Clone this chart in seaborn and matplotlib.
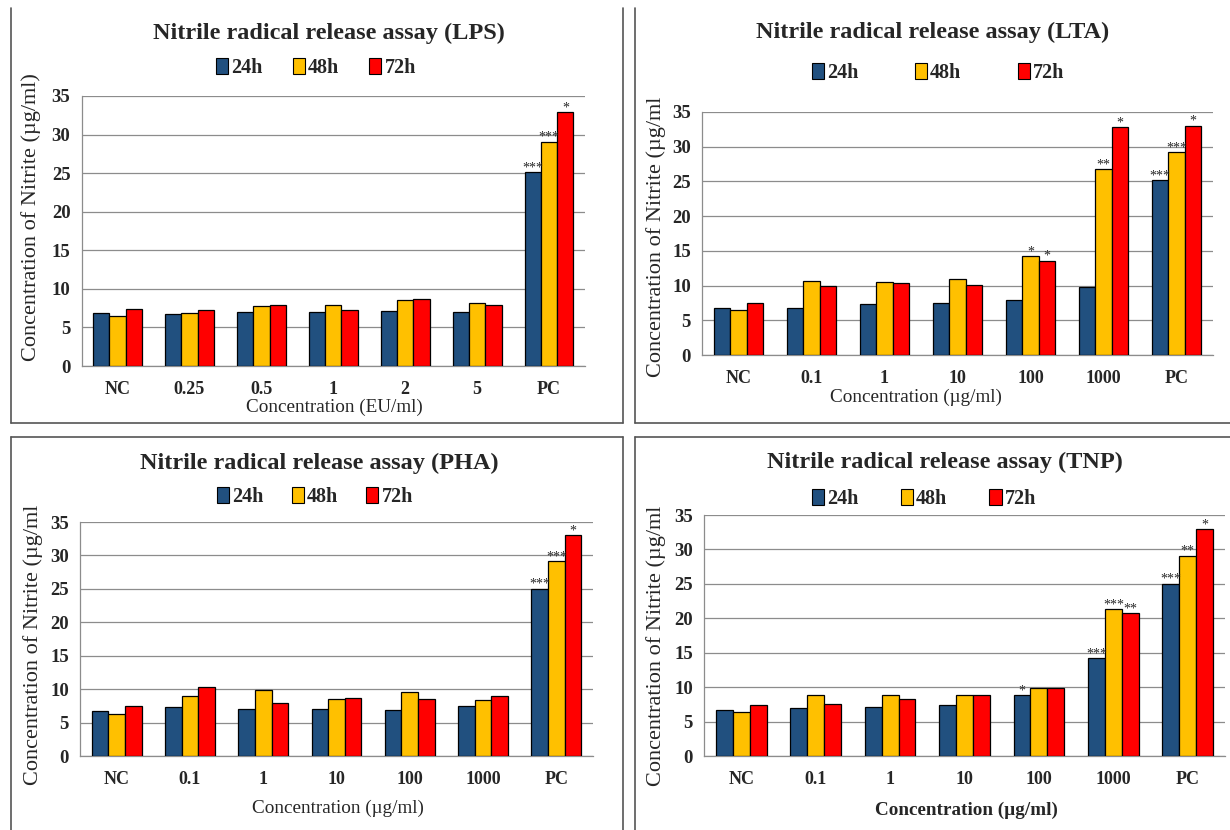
import numpy as np
import pandas as pd
import matplotlib
matplotlib.use("Agg")
import matplotlib.pyplot as plt
from matplotlib.patches import Patch
from matplotlib.lines import Line2D
from matplotlib.ticker import FixedLocator
import seaborn as sns

# ---- data -------------------------------------------------------------
times = ["24h", "48h", "72h"]

cats_lps = ["NC", "0.25", "0.5", "1", "2", "5", "PC"]
lps_24 = [6.9, 6.8, 7.0, 7.0, 7.1, 7.0, 25.1]
lps_48 = [6.45, 6.9, 7.8, 7.95, 8.55, 8.15, 29.1]
lps_72 = [7.45, 7.25, 7.95, 7.25, 8.7, 7.95, 32.9]

cats_ug = ["NC", "0.1", "1", "10", "100", "1000", "PC"]
lta_24 = [6.8, 6.8, 7.4, 7.5, 7.9, 9.75, 25.15]
lta_48 = [6.45, 10.65, 10.5, 11.0, 14.25, 26.75, 29.2]
lta_72 = [7.45, 10.0, 10.3, 10.1, 13.6, 32.8, 33.0]

pha_24 = [6.75, 7.4, 7.0, 7.1, 6.95, 7.45, 25.0]
pha_48 = [6.35, 8.95, 9.8, 8.5, 9.6, 8.35, 29.1]
pha_72 = [7.45, 10.25, 7.9, 8.75, 8.5, 8.95, 33.0]

tnp_24 = [6.7, 7.0, 7.1, 7.45, 8.85, 14.2, 25.0]
tnp_48 = [6.4, 8.8, 8.9, 8.9, 9.9, 21.35, 29.1]
tnp_72 = [7.4, 7.55, 8.25, 8.9, 9.9, 20.7, 32.9]

# significance marks: (category index, time index, text)
stars_lps = [(6, 0, "***"), (6, 1, "***"), (6, 2, "*")]
stars_lta = [(4, 1, "*"), (4, 2, "*"), (5, 1, "**"), (5, 2, "*"),
             (6, 0, "***"), (6, 1, "***"), (6, 2, "*")]
stars_pha = [(6, 0, "***"), (6, 1, "***"), (6, 2, "*")]
stars_tnp = [(4, 0, "*"), (5, 0, "***"), (5, 1, "***"), (5, 2, "**"),
             (6, 0, "***"), (6, 1, "**"), (6, 2, "*")]

titles = ["Nitrile radical release assay (LPS)",
          "Nitrile radical release assay (LTA)",
          "Nitrile radical release assay (PHA)",
          "Nitrile radical release assay (TNP)"]
ylabels = ["Concentration of Nitrite (\u00b5g/ml)",
           "Concentration of Nitrite (\u00b5g/ml",
           "Concentration of Nitrite (\u00b5g/ml",
           "Concentration of Nitrite (\u00b5g/ml"]
xlabels = ["Concentration (EU/ml)",
           "Concentration (\u00b5g/ml)",
           "Concentration (\u00b5g/ml)",
           "Concentration (\u00b5g/ml)"]

colors = ["#21507f", "#ffc000", "#ff0000"]

# ---- style ------------------------------------------------------------
sns.set_style("white")
SERIF = ["Liberation Serif", "DejaVu Serif"]
plt.rcParams["font.family"] = SERIF

W, H = 1230, 830
fig = plt.figure(figsize=(W / 100, H / 100), dpi=100)


def fx(x):
    return x / W


def fy(y):
    return 1 - y / H


def make_frame(ax_px):
    x0, y0, x1, y1 = ax_px
    return [fx(x0), fy(y1), fx(x1) - fx(x0), fy(y0) - fy(y1)]


panels = [
    dict(cats=cats_lps, vals=(lps_24, lps_48, lps_72), stars=stars_lps,
         box=(81.6, 96, 585, 366), title=(329, 33), leg=(316, 68, 1.5),
         ylab=(31, 217), xlab=(334, 407, "normal")),
    dict(cats=cats_ug, vals=(lta_24, lta_48, lta_72), stars=stars_lta,
         box=(702, 112, 1213, 355), title=(933, 32), leg=(938, 73, 2.8),
         ylab=(656, 237), xlab=(916, 397, "normal")),
    dict(cats=cats_ug, vals=(pha_24, pha_48, pha_72), stars=stars_pha,
         box=(80, 522, 593, 756), title=(319, 463), leg=(315, 497, 1.4),
         ylab=(33, 645), xlab=(338, 808, "normal")),
    dict(cats=cats_ug, vals=(tnp_24, tnp_48, tnp_72), stars=stars_tnp,
         box=(704, 515, 1225, 756), title=(945, 462), leg=(924, 499, 2.1),
         ylab=(656, 646), xlab=(966, 810, "bold")),
]

grid_col = "#8c8c8c"

for i, p in enumerate(panels):
    ax = fig.add_axes(make_frame(p["box"]))
    rows = []
    for t, series in zip(times, p["vals"]):
        for c, v in zip(p["cats"], series):
            rows.append({"conc": c, "time": t, "value": v})
    df = pd.DataFrame(rows)

    sns.barplot(data=df, x="conc", y="value", hue="time", order=p["cats"],
                hue_order=times, palette=colors, saturation=1, width=0.68,
                edgecolor="black", linewidth=0.9, errorbar=None,
                legend=False, ax=ax, zorder=3)

    ax.set_ylim(0, 35)
    ax.set_xlim(-0.5, len(p["cats"]) - 0.5)
    ax.set_yticks(np.arange(0, 36, 5))
    ax.set_xlabel("")
    ax.set_ylabel("")
    ax.yaxis.grid(True, color=grid_col, lw=0.9, zorder=0)
    ax.set_axisbelow(True)
    for s in ["top", "right"]:
        ax.spines[s].set_visible(False)
    for s in ["left", "bottom"]:
        ax.spines[s].set_color(grid_col)
        ax.spines[s].set_linewidth(0.9)

    ax.tick_params(axis="y", length=3, width=0.8, color=grid_col, pad=5,
                   labelsize=13.5)
    ax.tick_params(axis="x", which="major", length=0, pad=11, labelsize=13)
    ax.xaxis.set_minor_locator(FixedLocator(np.arange(-0.5, len(p["cats"]), 1)))
    ax.tick_params(axis="x", which="minor", length=4, width=0.8,
                   color=grid_col, direction="out")
    for lab in ax.get_xticklabels() + ax.get_yticklabels():
        lab.set_fontweight("bold")
        lab.set_family(SERIF)

    # significance marks above the bars
    for ci, ti, txt in p["stars"]:
        bar = ax.containers[ti][ci]
        xc = bar.get_x() + bar.get_width() / 2
        ax.annotate(txt, (xc, bar.get_height()), xytext=(0, -1.5),
                    textcoords="offset points", ha="center", va="bottom",
                    fontsize=10, family=SERIF, zorder=5)

    # headings and axis titles
    fig.text(fx(p["title"][0]), fy(p["title"][1]), titles[i], ha="center",
             va="center", fontsize=17.5, fontweight="bold", family=SERIF)
    fig.text(fx(p["ylab"][0]), fy(p["ylab"][1]), ylabels[i], ha="center",
             va="center", rotation=90, fontsize=16, family=SERIF)
    fig.text(fx(p["xlab"][0]), fy(p["xlab"][1]), xlabels[i], ha="center",
             va="center", fontsize=13.8, fontweight=p["xlab"][2], family=SERIF)

    handles = [Patch(facecolor=c, edgecolor="black", linewidth=0.8)
               for c in colors]
    ax.legend(handles, times, ncol=3, loc="center",
              bbox_to_anchor=(fx(p["leg"][0]), fy(p["leg"][1])),
              bbox_transform=fig.transFigure, frameon=False,
              prop={"family": SERIF, "weight": "bold", "size": 14.5},
              handlelength=0.6, handleheight=0.8, handletextpad=0.15,
              columnspacing=p["leg"][2], borderpad=0)

# panel frames
frame_col = "#555555"
segments = [
    ((11, 8), (11, 423)), ((11, 423), (623, 423)), ((623, 8), (623, 423)),
    ((635, 8), (635, 423)), ((635, 423), (1232, 423)),
    ((11, 437), (11, 832)), ((11, 437), (623, 437)), ((623, 437), (623, 832)),
    ((635, 437), (635, 832)), ((635, 437), (1232, 437)),
]
for (x0, y0), (x1, y1) in segments:
    fig.add_artist(Line2D([fx(x0), fx(x1)], [fy(y0), fy(y1)],
                          transform=fig.transFigure, color=frame_col, lw=1.2))

fig.savefig("out.png", dpi=100, facecolor="white")
